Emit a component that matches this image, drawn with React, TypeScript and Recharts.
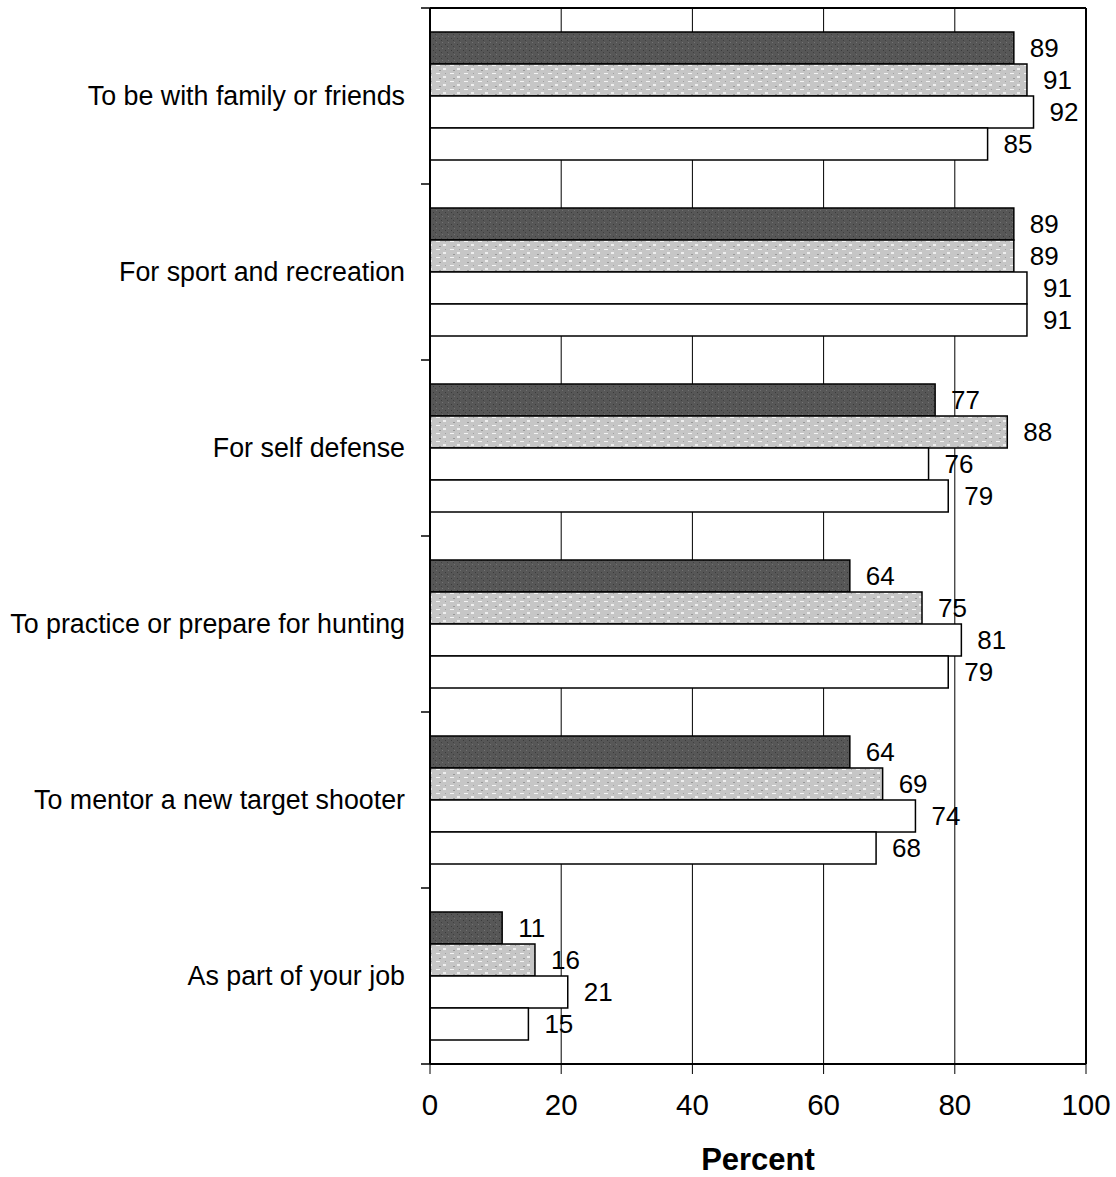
import { BarChart, Bar, XAxis, YAxis, CartesianGrid, LabelList, ReferenceLine } from 'recharts';

const categories = [
  'To be with family or friends',
  'For sport and recreation',
  'For self defense',
  'To practice or prepare for hunting',
  'To mentor a new target shooter',
  'As part of your job',
];

const seriesA = [89, 89, 77, 64, 64, 11];
const seriesB = [91, 89, 88, 75, 69, 16];
const seriesC = [92, 91, 76, 81, 74, 21];
const seriesD = [85, 91, 79, 79, 68, 15];

const xTicks = [0, 20, 40, 60, 80, 100];

const data = categories.map((name, i) => ({
  name,
  a: seriesA[i],
  b: seriesB[i],
  c: seriesC[i],
  d: seriesD[i],
}));

const FONT = 'Arial, "Liberation Sans", Helvetica, sans-serif';

// category label plus the outward tick marks that sit on the band boundaries
function CategoryTick(props: any) {
  const { x, y, payload, index } = props;
  const half = payload && payload.offset ? payload.offset : 88;
  const isLast = index === categories.length - 1;
  return (
    <g>
      <line x1={x + 25 - 9} x2={x + 25} y1={y - half} y2={y - half} stroke="#000" strokeWidth={1.5} />
      {isLast && <line x1={x + 25 - 9} x2={x + 25} y1={y + half} y2={y + half} stroke="#000" strokeWidth={1.5} />}
      <text x={x} y={y} dy={9} textAnchor="end" fontSize={26.8} fill="#000" fontFamily={FONT}>
        {payload.value}
      </text>
    </g>
  );
}

export default function App() {
  const labelStyle = { fontSize: 26, fill: '#000', fontFamily: FONT };
  return (
    <div style={{ position: 'absolute', left: 0, top: 0, background: '#fff' }}>
      <BarChart
        width={1116}
        height={1177}
        data={data}
        layout="vertical"
        margin={{ top: 7, right: 30, left: 0, bottom: 0 }}
        barCategoryGap={24}
        barGap={0}
      >
        <defs>
          <pattern id="darkTex" width="6" height="6" patternUnits="userSpaceOnUse">
            <rect width="6" height="6" fill="#575757" />
            <rect x="1" y="2" width="1" height="1" fill="#3a3a3a" />
            <rect x="4" y="0" width="1" height="1" fill="#737373" />
            <rect x="3" y="4" width="1" height="1" fill="#404040" />
          </pattern>
          <pattern id="lightTex" width="14" height="8" patternUnits="userSpaceOnUse">
            <rect width="14" height="8" fill="#c6c6c6" />
            <rect x="2" y="1" width="4" height="1" fill="#f4f4f4" />
            <rect x="9" y="4" width="3" height="2" fill="#eeeeee" />
            <rect x="5" y="6" width="2" height="1" fill="#999" />
            <rect x="11" y="1" width="1" height="1" fill="#a0a0a0" />
          </pattern>
        </defs>
        <CartesianGrid horizontal={false} vertical stroke="#000" strokeWidth={1} />
        <XAxis
          type="number"
          domain={[0, 100]}
          ticks={xTicks}
          interval={0}
          axisLine={{ stroke: '#000', strokeWidth: 2 }}
          tickLine={{ stroke: '#000' }}
          tickSize={10}
          tickMargin={20}
          height={113}
          tick={{ fontSize: 29.5, fill: '#000', fontFamily: FONT }}
          label={{
            value: 'Percent',
            position: 'insideBottom',
            offset: 7,
            style: { fontSize: 31, fontWeight: 700, fill: '#000', fontFamily: FONT },
          }}
        />
        <XAxis
          xAxisId="top"
          orientation="top"
          type="number"
          domain={[0, 100]}
          height={1}
          tick={false}
          tickLine={false}
          axisLine={{ stroke: '#000', strokeWidth: 2 }}
        />
        <YAxis
          type="category"
          dataKey="name"
          width={430}
          axisLine={{ stroke: '#000', strokeWidth: 2 }}
          tickLine={false}
          tickSize={0}
          tickMargin={25}
          interval={0}
          tick={<CategoryTick />}
        />
        <ReferenceLine x={100} stroke="#000" strokeWidth={2} ifOverflow="extendDomain" />
        <Bar dataKey="a" fill="url(#darkTex)" stroke="#000" strokeWidth={1.5} isAnimationActive={false}>
          <LabelList dataKey="a" position="right" offset={16} style={labelStyle} />
        </Bar>
        <Bar dataKey="b" fill="url(#lightTex)" stroke="#000" strokeWidth={1.5} isAnimationActive={false}>
          <LabelList dataKey="b" position="right" offset={16} style={labelStyle} />
        </Bar>
        <Bar dataKey="c" fill="#fff" stroke="#000" strokeWidth={1.5} isAnimationActive={false}>
          <LabelList dataKey="c" position="right" offset={16} style={labelStyle} />
        </Bar>
        <Bar dataKey="d" fill="#fff" stroke="#000" strokeWidth={1.5} isAnimationActive={false}>
          <LabelList dataKey="d" position="right" offset={16} style={labelStyle} />
        </Bar>
      </BarChart>
    </div>
  );
}
